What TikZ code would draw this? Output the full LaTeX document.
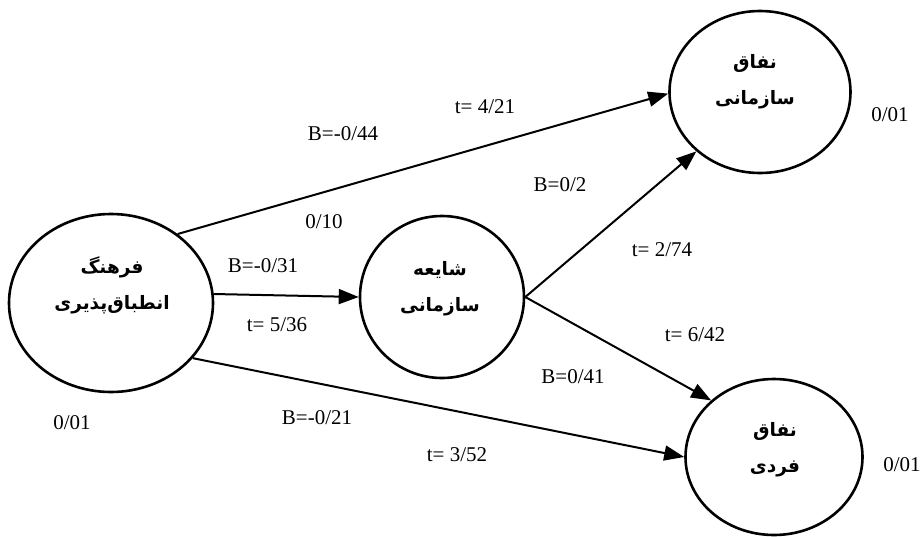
\documentclass[tikz,border=0pt]{standalone}
\usepackage{fontspec}
\setmainfont{Liberation Serif}
\newfontfamily\fafont[Script=Arabic]{DejaVu Sans}
\TeXXeTstate=1
\usetikzlibrary{arrows.meta,shapes.geometric}
\newcommand{\fa}[1]{{\fafont\bfseries\beginR #1\endR}}
\begin{document}
\begin{tikzpicture}[x=1pt, y=-1pt,
    var/.style={ellipse, draw, line width=2.6pt, inner sep=0pt},
    title/.style={align=center, inner sep=0pt, font=\fontsize{18.5}{36}\selectfont},
    link/.style={line width=2pt, -{Triangle[length=20pt,width=15pt]}},
    coef/.style={inner sep=0pt, font=\fontsize{21}{24}\selectfont}
]
\useasboundingbox (0,0) rectangle (924,536);
\node[var, minimum width=204pt, minimum height=178pt] (adapt) at (111,303) {};
\node[var, minimum width=164pt, minimum height=162pt] (rumor) at (442,297) {};
\node[var, minimum width=181pt, minimum height=162pt] (orghyp) at (760,92) {};
\node[var, minimum width=177pt, minimum height=156pt] (indhyp) at (774,457) {};
\node[title] (adapt-t) at (112,285) {\fa{فرهنگ}\\\fa{انطباق‌پذیری}};
\node[title] (rumor-t) at (440,289) {\fa{شایعه}\\\fa{سازمانی}};
\node[title] (orghyp-t) at (755,82) {\fa{نفاق}\\\fa{سازمانی}};
\node[title] (indhyp-t) at (775,450) {\fa{نفاق}\\\fa{فردی}};
\draw[link] (adapt.46) -- (orghyp.181);
\draw[link] (adapt.5) -- (rumor.180);
\draw[link] (adapt.-34) -- (indhyp.180);
\draw[link] (rumor.0) -- (orghyp.223);
\draw[link] (rumor.0) -- (indhyp.138);
\node[coef] (t1) at (485,107) {t= 4/21};
\node[coef] (b1) at (343,134) {B=-0/44};
\node[coef] (r1) at (324,222) {0/10};
\node[coef] (b4) at (560,185) {B=0/2};
\node[coef] (t4) at (662,250) {t= 2/74};
\node[coef] (b2) at (263,266) {B=-0/31};
\node[coef] (t2) at (277,325) {t= 5/36};
\node[coef] (t5) at (695,335) {t= 6/42};
\node[coef] (b5) at (573,377) {B=0/41};
\node[coef] (b3) at (317,418) {B=-0/21};
\node[coef] (t3) at (457,455) {t= 3/52};
\node[coef] (r0) at (72,423) {0/01};
\node[coef] (r2) at (890,115) {0/01};
\node[coef] (r3) at (902,465) {0/01};
\end{tikzpicture}
\end{document}
